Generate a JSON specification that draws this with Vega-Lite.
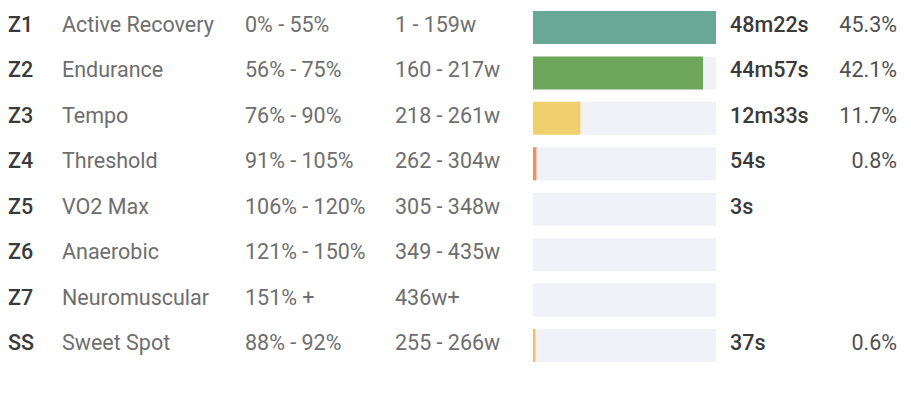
{
  "$schema": "https://vega.github.io/schema/vega-lite/v6.json",
  "background": "white",
  "padding": {"left": 8, "top": 11, "right": 0, "bottom": 0},
  "spacing": 14,
  "bounds": "flush",
  "config": {
    "view": {"stroke": null},
    "text": {"font": "Roboto", "fontSize": 21.5, "baseline": "middle", "align": "left", "dy": -1.5}
  },
  "data": {
    "values": [
      {"zone": "Z1", "name": "Active Recovery", "pct": "0% - 55%", "watts": "1 - 159w", "seconds": 2902, "time": "48m22s", "share": "45.3%"},
      {"zone": "Z2", "name": "Endurance", "pct": "56% - 75%", "watts": "160 - 217w", "seconds": 2697, "time": "44m57s", "share": "42.1%"},
      {"zone": "Z3", "name": "Tempo", "pct": "76% - 90%", "watts": "218 - 261w", "seconds": 753, "time": "12m33s", "share": "11.7%"},
      {"zone": "Z4", "name": "Threshold", "pct": "91% - 105%", "watts": "262 - 304w", "seconds": 54, "time": "54s", "share": "0.8%"},
      {"zone": "Z5", "name": "VO2 Max", "pct": "106% - 120%", "watts": "305 - 348w", "seconds": 3, "time": "3s", "share": ""},
      {"zone": "Z6", "name": "Anaerobic", "pct": "121% - 150%", "watts": "349 - 435w", "seconds": 0, "time": "", "share": ""},
      {"zone": "Z7", "name": "Neuromuscular", "pct": "151% +", "watts": "436w+", "seconds": 0, "time": "", "share": ""},
      {"zone": "SS", "name": "Sweet Spot", "pct": "88% - 92%", "watts": "255 - 266w", "seconds": 37, "time": "37s", "share": "0.6%"}
    ]
  },
  "hconcat": [
    {
      "width": 40, "height": 351,
      "mark": {"type": "text", "fontWeight": 500, "color": "#3a3a3a"},
      "encoding": {
        "y": {"field": "zone", "type": "nominal", "sort": null, "axis": null, "bandPosition": 0.5, "scale": {"type": "band", "paddingInner": 0.273, "paddingOuter": 0}},
        "x": {"value": 0},
        "text": {"field": "zone"}
      }
    },
    {
      "width": 169, "height": 351,
      "mark": {"type": "text", "color": "#6e6e6e"},
      "encoding": {
        "y": {"field": "zone", "type": "nominal", "sort": null, "axis": null, "bandPosition": 0.5, "scale": {"type": "band", "paddingInner": 0.273, "paddingOuter": 0}},
        "x": {"value": 0},
        "text": {"field": "name"}
      }
    },
    {
      "width": 136, "height": 351,
      "mark": {"type": "text", "color": "#6e6e6e"},
      "encoding": {
        "y": {"field": "zone", "type": "nominal", "sort": null, "axis": null, "bandPosition": 0.5, "scale": {"type": "band", "paddingInner": 0.273, "paddingOuter": 0}},
        "x": {"value": 0},
        "text": {"field": "pct"}
      }
    },
    {
      "width": 124, "height": 351,
      "mark": {"type": "text", "color": "#6e6e6e"},
      "encoding": {
        "y": {"field": "zone", "type": "nominal", "sort": null, "axis": null, "bandPosition": 0.5, "scale": {"type": "band", "paddingInner": 0.273, "paddingOuter": 0}},
        "x": {"value": 0},
        "text": {"field": "watts"}
      }
    },
    {
      "width": 183, "height": 351,
      "layer": [
        {
          "mark": {"type": "bar", "color": "#f1f2f7"},
          "encoding": {
            "y": {"field": "zone", "type": "nominal", "sort": null, "axis": null, "scale": {"type": "band", "paddingInner": 0.273, "paddingOuter": 0}},
            "x": {"datum": 0, "type": "quantitative", "axis": null, "scale": {"domain": [0, 2902], "nice": false, "zero": true}},
            "x2": {"datum": 2902}
          }
        },
        {
          "mark": {"type": "bar"},
          "encoding": {
            "y": {"field": "zone", "type": "nominal", "sort": null, "axis": null},
            "x": {"field": "seconds", "type": "quantitative", "axis": null},
            "color": {
              "field": "zone", "type": "nominal", "legend": null,
              "scale": {
                "domain": ["Z1", "Z2", "Z3", "Z4", "Z5", "Z6", "Z7", "SS"],
                "range": ["#6aa896", "#6ea65c", "#f0d06e", "#f0915a", "#f2f2f7", "#b05fa8", "#6a5fb0", "#f6b964"]
              }
            }
          }
        }
      ]
    },
    {
      "width": 100, "height": 351,
      "mark": {"type": "text", "fontWeight": 500, "color": "#3a3a3a"},
      "encoding": {
        "y": {"field": "zone", "type": "nominal", "sort": null, "axis": null, "bandPosition": 0.5, "scale": {"type": "band", "paddingInner": 0.273, "paddingOuter": 0}},
        "x": {"value": 0},
        "text": {"field": "time"}
      }
    },
    {
      "width": 53, "height": 351,
      "mark": {"type": "text", "color": "#505050", "align": "right"},
      "encoding": {
        "y": {"field": "zone", "type": "nominal", "sort": null, "axis": null, "bandPosition": 0.5, "scale": {"type": "band", "paddingInner": 0.273, "paddingOuter": 0}},
        "x": {"value": 53},
        "text": {"field": "share"}
      }
    }
  ]
}
